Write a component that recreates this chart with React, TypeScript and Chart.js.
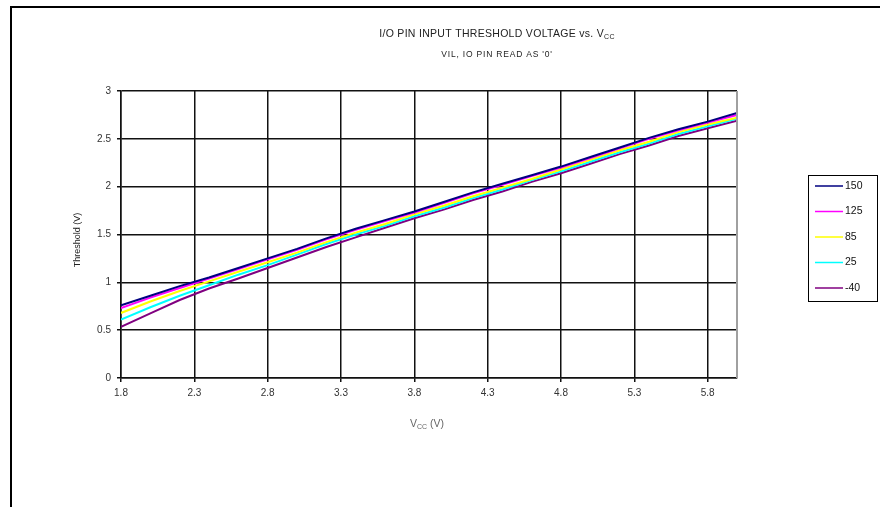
import React, { useEffect, useRef } from "react";
import { Chart, registerables } from "chart.js";

Chart.register(...registerables);

const vcc = [1.8, 2.0, 2.2, 2.4, 2.6, 2.8, 3.0, 3.2, 3.4, 3.6, 3.8, 4.0, 4.2, 4.4, 4.6, 4.8, 5.0, 5.2, 5.4, 5.6, 5.8, 6.0];
const t150 = [0.76, 0.86, 0.96, 1.05, 1.15, 1.25, 1.35, 1.46, 1.56, 1.65, 1.74, 1.84, 1.94, 2.03, 2.12, 2.21, 2.31, 2.41, 2.51, 2.60, 2.68, 2.77];
const t125 = [0.73, 0.84, 0.94, 1.04, 1.14, 1.24, 1.34, 1.45, 1.55, 1.64, 1.73, 1.83, 1.93, 2.02, 2.11, 2.20, 2.30, 2.40, 2.50, 2.59, 2.67, 2.75];
const t85 = [0.68, 0.80, 0.91, 1.01, 1.11, 1.21, 1.31, 1.42, 1.52, 1.61, 1.71, 1.80, 1.90, 1.99, 2.08, 2.18, 2.28, 2.38, 2.47, 2.57, 2.65, 2.72];
const t25 = [0.61, 0.74, 0.86, 0.97, 1.08, 1.18, 1.29, 1.40, 1.50, 1.59, 1.69, 1.78, 1.88, 1.97, 2.07, 2.16, 2.26, 2.36, 2.45, 2.55, 2.63, 2.71];
const tm40 = [0.535, 0.675, 0.815, 0.935, 1.04, 1.15, 1.26, 1.37, 1.47, 1.57, 1.67, 1.76, 1.86, 1.95, 2.05, 2.14, 2.24, 2.34, 2.43, 2.53, 2.61, 2.69];

const seriesLabels = ["150", "125", "85", "25", "-40"];
const seriesColors = ["#000080", "#FF00FF", "#FFFF00", "#00FFFF", "#800080"];
const seriesValues = [t150, t125, t85, t25, tm40];

const xTicks = [1.8, 2.3, 2.8, 3.3, 3.8, 4.3, 4.8, 5.3, 5.8];
const yTicks = [0, 0.5, 1, 1.5, 2, 2.5, 3];

const titleMain = "I/O PIN INPUT THRESHOLD VOLTAGE vs. V";
const titleSub = "CC";
const subtitle = "VIL, IO PIN READ AS '0'";
const yTitle = "Threshold (V)";
const xTitleMain = "V";
const xTitleSub = "CC";
const xTitleRest = " (V)";

const FONT = "'Liberation Sans', Arial, sans-serif";

const decorPlugin = {
  id: "decor",
  afterDraw(chart: any) {
    const ctx = chart.ctx as CanvasRenderingContext2D;
    const area = chart.chartArea;
    ctx.save();
    // outer frame
    ctx.strokeStyle = "#000";
    ctx.lineWidth = 2;
    ctx.beginPath();
    ctx.moveTo(11, 510);
    ctx.lineTo(11, 7);
    ctx.lineTo(885, 7);
    ctx.stroke();

    // right border of plot area
    ctx.strokeStyle = "#a0a0a0";
    ctx.lineWidth = 2;
    ctx.beginPath();
    ctx.moveTo(area.right, area.top);
    ctx.lineTo(area.right, area.bottom);
    ctx.stroke();

    // title with subscript
    ctx.fillStyle = "#222";
    ctx.textBaseline = "alphabetic";
    ctx.textAlign = "left";
    (ctx as any).letterSpacing = "0.3px";
    ctx.font = `10.5px ${FONT}`;
    const w1 = ctx.measureText(titleMain).width;
    ctx.font = `7px ${FONT}`;
    const w2 = ctx.measureText(titleSub).width;
    const cx = 497;
    const x0 = cx - (w1 + w2) / 2;
    ctx.font = `10.5px ${FONT}`;
    ctx.fillText(titleMain, x0, 37);
    ctx.font = `7px ${FONT}`;
    ctx.fillText(titleSub, x0 + w1, 39);

    // subtitle
    (ctx as any).letterSpacing = "0.8px";
    ctx.font = `8.5px ${FONT}`;
    ctx.textAlign = "center";
    ctx.fillText(subtitle, cx, 57);
    (ctx as any).letterSpacing = "0px";

    // y title
    ctx.save();
    ctx.translate(77, 240);
    ctx.rotate(-Math.PI / 2);
    ctx.font = `9px ${FONT}`;
    ctx.textAlign = "center";
    ctx.fillStyle = "#222";
    ctx.fillText(yTitle, 0, 3);
    ctx.restore();

    // x title
    ctx.fillStyle = "#666";
    ctx.textAlign = "left";
    ctx.font = `10.5px ${FONT}`;
    const a = ctx.measureText(xTitleMain).width;
    const c = ctx.measureText(xTitleRest).width;
    ctx.font = `7px ${FONT}`;
    const b = ctx.measureText(xTitleSub).width;
    const xc = 427;
    const xs = xc - (a + b + c) / 2;
    ctx.font = `10.5px ${FONT}`;
    ctx.fillText(xTitleMain, xs, 427);
    ctx.font = `7px ${FONT}`;
    ctx.fillText(xTitleSub, xs + a, 429);
    ctx.font = `10.5px ${FONT}`;
    ctx.fillText(xTitleRest, xs + a + b, 427);

    // legend
    const lx = 808, ly = 175, lw = 69, lh = 126;
    ctx.strokeStyle = "#000";
    ctx.lineWidth = 1;
    ctx.strokeRect(lx + 0.5, ly + 0.5, lw, lh);
    ctx.font = `10.5px ${FONT}`;
    ctx.textBaseline = "middle";
    ctx.textAlign = "left";
    chart.data.datasets.forEach((ds: any, i: number) => {
      const yy = 186 + i * 25.5;
      ctx.strokeStyle = ds.borderColor;
      ctx.lineWidth = 1.5;
      ctx.beginPath();
      ctx.moveTo(815, yy);
      ctx.lineTo(843, yy);
      ctx.stroke();
      ctx.fillStyle = "#111";
      ctx.fillText(ds.label, 845, yy);
    });
    ctx.restore();
  },
};

export default function App() {
  const ref = useRef<HTMLCanvasElement | null>(null);
  useEffect(() => {
    if (!ref.current) return;
    const datasets = seriesLabels.map((label, i) => ({
      label,
      data: vcc.map((x, j) => ({ x, y: seriesValues[i][j] })),
      borderColor: seriesColors[i],
      backgroundColor: seriesColors[i],
      borderWidth: 2,
      pointRadius: 0,
      tension: 0,
      fill: false,
    }));
    const chart = new Chart(ref.current, {
      type: "line",
      data: { datasets },
      options: {
        animation: false,
        responsive: false,
        maintainAspectRatio: false,
        layout: { padding: { left: 0, top: 91, right: 143, bottom: 0 } },
        plugins: {
          legend: { display: false },
          title: { display: false },
          tooltip: { enabled: false },
        },
        scales: {
          x: {
            type: "linear",
            min: 1.8,
            max: 6.0,
            afterBuildTicks: (scale: any) => {
              scale.ticks = xTicks.map((v) => ({ value: v }));
            },
            afterFit: (scale: any) => {
              scale.height = 129;
            },
            ticks: {
              autoSkip: false,
              maxRotation: 0,
              padding: 5,
              color: "#333",
              font: { family: FONT, size: 10 },
              callback: (v: any) => String(v),
            },
            grid: { color: "#111", lineWidth: 1.5, tickLength: 4, tickColor: "#111" },
            border: { display: true, color: "#111", width: 1.5 },
          },
          y: {
            type: "linear",
            min: 0,
            max: 3,
            afterBuildTicks: (scale: any) => {
              scale.ticks = yTicks.map((v) => ({ value: v }));
            },
            afterFit: (scale: any) => {
              scale.width = 121;
            },
            ticks: {
              padding: 6,
              color: "#333",
              font: { family: FONT, size: 10 },
              callback: (v: any) => String(v),
            },
            grid: { color: "#111", lineWidth: 1.5, tickLength: 4, tickColor: "#111" },
            border: { display: true, color: "#111", width: 1.5 },
          },
        },
      },
      plugins: [decorPlugin],
    });
    return () => chart.destroy();
  }, []);
  return (
    <div style={{ position: "fixed", left: 0, top: 0, width: 880, height: 507, background: "#fff" }}>
      <canvas ref={ref} width={880} height={507} style={{ display: "block", width: 880, height: 507 }} />
    </div>
  );
}
